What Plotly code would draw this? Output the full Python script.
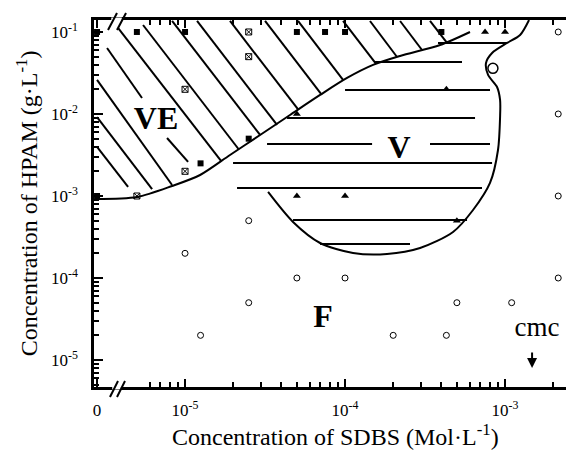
import plotly.graph_objects as go

# ------------------------------------------------------------------ data
# SDBS concentration (mol/L) ; HPAM concentration (g/L). 0 = no SDBS (left of axis break)
ZERO_LOG = -5.55   # log10 position used to place "0" SDBS on the broken log axis

# VE points: filled squares
sq_x = [0, 5e-6, 1e-5, 5e-5, 7.5e-5, 1e-4, 4e-4, 1.25e-5, 2.5e-5, 0]
sq_y = [0.1, 0.1, 0.1, 0.1, 0.1, 0.1, 0.1, 2.5e-3, 5e-3, 1e-3]
# VE points: hatched squares
hsq_x = [2.5e-5, 2.5e-5, 1e-5, 1e-5, 5e-6]
hsq_y = [0.1, 0.05, 0.02, 2e-3, 1e-3]
# V points: triangles
tri_x = [5e-5, 1e-4, 5e-4, 4.3e-4, 7.5e-4, 1e-3, 5e-5]
tri_y = [1e-3, 1e-3, 5e-4, 0.02, 0.1, 0.1, 0.01]
# F points: open circles
circ_x = [2.15e-3, 2.15e-3, 2.15e-3, 2.15e-3, 2.5e-5, 1e-5, 5e-5, 1e-4,
          2.5e-5, 1.25e-5, 5e-4, 1.1e-3, 2e-4, 4.3e-4]
circ_y = [0.1, 0.01, 1e-3, 1e-4, 5e-4, 2e-4, 1e-4, 1e-4,
          5e-5, 2e-5, 5e-5, 5e-5, 2e-5, 2e-5]
big_circ_x = [8.4e-4]
big_circ_y = [0.036]

# VE / V boundary (log10 values)
ve_bound_lx = [-5.56, -5.30, -5.081, -4.906, -4.719, -4.531, -4.344, -4.156,
               -3.9875, -3.825, -3.656, -3.406, -3.219]
ve_bound_ly = [-3.037, -3.012, -2.878, -2.744, -2.5, -2.256, -2.012, -1.768,
               -1.561, -1.402, -1.293, -1.159, -1.0]
# V / F boundary (log10 values)
v_bound_lx = [-2.85, -2.906, -2.9875, -3.081, -3.119, -3.106, -3.05, -3.031, -3.031,
              -3.044, -3.094, -3.2, -3.325, -3.531, -3.7375, -3.95, -4.156, -4.325, -4.481]
v_bound_ly = [-0.854, -1.037, -1.134, -1.256, -1.378, -1.524, -1.671, -1.829, -2.037,
              -2.439, -2.841, -3.171, -3.439, -3.634, -3.707, -3.695, -3.573, -3.317, -2.951]
v_top_lx = [-3.419, -2.9875]
v_top_ly = [-1.134, -1.134]

# VE diagonal hatching (log10 endpoints)
ve_h_x0 = [-5.419, -5.2625, -5.081, -4.925, -4.719, -4.5, -4.294, -4.0125, -3.844, -3.656, -3.469,
           -5.4875, -5.55, -5.55, -5.55, -5.1125]
ve_h_y0 = [-0.951, -0.915, -0.866, -0.866, -0.866, -0.866, -0.866, -0.866, -0.866, -0.866, -0.866,
           -1.195, -1.585, -2.037, -2.402, -2.293]
ve_h_x1 = [-4.775, -4.666, -4.531, -4.425, -4.291, -4.15, -4.0125, -3.806, -3.675, -3.519, -3.3625,
           -5.269, -5.081, -5.206, -5.356, -4.981]
ve_h_y1 = [-2.573, -2.427, -2.256, -2.134, -1.951, -1.756, -1.585, -1.39, -1.305, -1.22, -1.134,
           -1.805, -2.866, -2.915, -2.890, -2.585]

# V horizontal hatching (log10): level, start, end
v_h_y = [-1.366, -1.707, -2.049, -2.366, -2.366, -2.598, -2.902, -3.293, -3.585]
v_h_x0 = [-3.8125, -4.0, -4.3625, -4.4875, -3.469, -4.7, -4.675, -4.325, -4.156]
v_h_x1 = [-3.269, -3.094, -3.1875, -3.831, -3.094, -3.081, -3.144, -3.2375, -3.594]

# region labels (log10 positions)
labels = ["VE", "V", "F"]
label_lx = [-5.181, -3.6625, -4.1375]
label_ly = [-2.085, -2.439, -4.5]
cmc_lx, cmc_ly = -2.80, -4.63
cmc_arrow_lx, cmc_arrow_ly = -2.831, -5.098

x_tickvals_log = [ZERO_LOG, -5, -4, -3]
x_ticktext = ["0", "10<sup>-5</sup>", "10<sup>-4</sup>", "10<sup>-3</sup>"]
y_tickvals = [1e-5, 1e-4, 1e-3, 1e-2, 1e-1]
y_ticktext = ["10<sup>-5</sup>", "10<sup>-4</sup>", "10<sup>-3</sup>", "10<sup>-2</sup>", "10<sup>-1</sup>"]

# ------------------------------------------------------------------ helpers
def xv(v):
    return 10 ** ZERO_LOG if v == 0 else v

def p10(lst):
    return [10 ** v for v in lst]

def segs(x0, y0, x1, y1):
    xs, ys = [], []
    for a, b, c, d in zip(x0, y0, x1, y1):
        xs += [10 ** a, 10 ** c, None]
        ys += [10 ** b, 10 ** d, None]
    return xs, ys

FONT = "Liberation Serif, Times New Roman, serif"
fig = go.Figure()

hx, hy = segs(ve_h_x0, ve_h_y0, ve_h_x1, ve_h_y1)
fig.add_trace(go.Scatter(x=hx, y=hy, mode="lines", line=dict(color="black", width=2), hoverinfo="skip"))
vx, vy = segs(v_h_x0, v_h_y, v_h_x1, v_h_y)
fig.add_trace(go.Scatter(x=vx, y=vy, mode="lines", line=dict(color="black", width=2), hoverinfo="skip"))

fig.add_trace(go.Scatter(x=p10(ve_bound_lx), y=p10(ve_bound_ly), mode="lines",
                         line=dict(color="black", width=2, shape="spline", smoothing=0.8)))
fig.add_trace(go.Scatter(x=p10(v_bound_lx), y=p10(v_bound_ly), mode="lines",
                         line=dict(color="black", width=2, shape="spline", smoothing=0.8)))
fig.add_trace(go.Scatter(x=p10(v_top_lx), y=p10(v_top_ly), mode="lines",
                         line=dict(color="black", width=2)))

fig.add_trace(go.Scatter(x=[xv(v) for v in sq_x], y=sq_y, mode="markers",
                         marker=dict(symbol="square", size=6, color="black"), cliponaxis=False))
fig.add_trace(go.Scatter(x=hsq_x, y=hsq_y, mode="markers",
                         marker=dict(symbol="square-x-open", size=6, color="black", line=dict(width=1))))
fig.add_trace(go.Scatter(x=tri_x, y=tri_y, mode="markers",
                         marker=dict(symbol="triangle-up", size=7, color="black")))
fig.add_trace(go.Scatter(x=circ_x, y=circ_y, mode="markers",
                         marker=dict(symbol="circle-open", size=6, color="black", line=dict(width=1))))
fig.add_trace(go.Scatter(x=big_circ_x, y=big_circ_y, mode="markers",
                         marker=dict(symbol="circle", size=10, color="white", line=dict(width=1.5, color="black"))))

fig.add_trace(go.Scatter(x=p10(label_lx), y=p10(label_ly), mode="text", text=labels,
                         textfont=dict(family=FONT, size=32, color="black"),
                         texttemplate="<b>%{text}</b>"))
fig.add_trace(go.Scatter(x=[10 ** cmc_lx], y=[10 ** cmc_ly], mode="text", text=["cmc"],
                         textfont=dict(family=FONT, size=27, color="black")))

fig.add_annotation(x=cmc_arrow_lx, y=cmc_arrow_ly, xref="x", yref="y", text="",
                   showarrow=True, arrowhead=2, arrowsize=1, arrowwidth=2, arrowcolor="black",
                   ax=0, ay=-17)

minor_x = [m * 10 ** e for e in (-6, -5, -4, -3) for m in range(2, 10)]
minor_x = [v for v in minor_x if v >= 5e-6]
minor_y = [m * 10 ** e for e in (-6, -5, -4, -3, -2) for m in range(2, 10)]

fig.update_xaxes(type="log", range=[-5.569, -2.569], showline=True, linecolor="black", linewidth=2.5,
                 mirror="ticks", ticks="inside", ticklen=8, tickwidth=2, tickcolor="black",
                 tickvals=[10 ** v for v in x_tickvals_log], ticktext=x_ticktext,
                 showgrid=False, zeroline=False, ticklabelstandoff=6,
                 tickfont=dict(family=FONT, size=17, color="black"),
                 minor=dict(tickvals=minor_x, ticks="inside", ticklen=5, tickwidth=1.5,
                            tickcolor="black", showgrid=False))
fig.update_yaxes(type="log", range=[-5.329, -0.854], showline=True, linecolor="black", linewidth=2.5,
                 mirror=False, ticks="inside", ticklen=9, tickwidth=2, tickcolor="black",
                 tickvals=y_tickvals, ticktext=y_ticktext, showgrid=False, zeroline=False,
                 ticklabelstandoff=10,
                 tickfont=dict(family=FONT, size=17, color="black"),
                 minor=dict(tickvals=minor_y, ticks="inside", ticklen=5, tickwidth=1.5,
                            tickcolor="black", showgrid=False))

# axis titles
fig.add_annotation(text="Concentration of HPAM (g·L<sup>-1</sup>)", xref="paper", yref="paper",
                   x=-0.14, y=0.5, xanchor="center", yanchor="middle", textangle=-90, showarrow=False,
                   font=dict(family=FONT, size=24, color="black"))
fig.add_annotation(text="Concentration of SDBS (Mol·L<sup>-1</sup>)", xref="paper", yref="paper",
                   x=0.504, y=-0.13, xanchor="center", yanchor="middle", showarrow=False,
                   font=dict(family=FONT, size=24, color="black"))

# axis break marks
shapes = []
shapes.append(dict(type="line", xref="paper", yref="paper", x0=0.036, x1=0.058, y0=1, y1=1,
                   line=dict(color="white", width=5)))
shapes.append(dict(type="line", xref="paper", yref="paper", x0=0.038, x1=0.056, y0=0, y1=0,
                   line=dict(color="white", width=5)))
for (a, b, c, d) in [(0.0292, 0.9728, 0.0479, 1.0191), (0.0479, 0.9728, 0.0667, 1.0191),
                     (0.0333, -0.0272, 0.05, 0.0163), (0.0479, -0.0272, 0.0646, 0.0163)]:
    shapes.append(dict(type="line", xref="paper", yref="paper", x0=a, y0=b, x1=c, y1=d,
                       line=dict(color="black", width=2)))
fig.update_layout(shapes=shapes)

# page body adds an 8px offset, so margins are shifted to keep the plot area in place
fig.update_layout(width=574, height=451, margin=dict(l=86, r=8, t=12, b=72),
                  plot_bgcolor="white", paper_bgcolor="white", showlegend=False)

fig.write_html("out.html")
